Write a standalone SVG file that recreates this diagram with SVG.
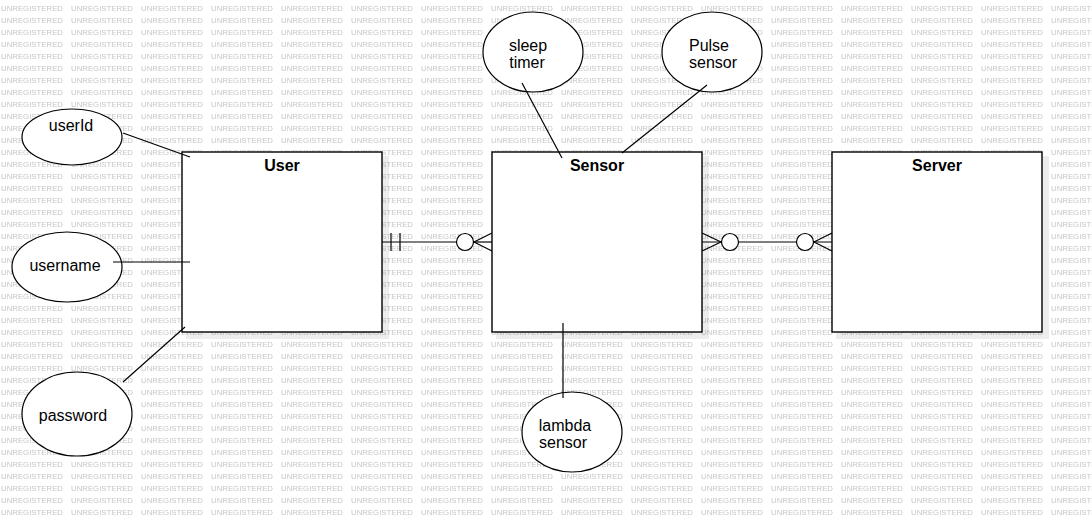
<svg xmlns="http://www.w3.org/2000/svg" width="1092" height="522" viewBox="0 0 1092 522">
<style>
.wm{font-family:"Liberation Sans",Arial,sans-serif;font-size:8px;fill:#c6c6c6}
.box{fill:#fff;stroke:#000;stroke-width:1.4}
.shadow{fill:#000;opacity:0.07}
.ell{fill:#fff;stroke:#000;stroke-width:1.2}
.t{font-family:"Liberation Sans",Arial,sans-serif;font-size:16px;fill:#000;text-anchor:middle}
.title{font-family:"Liberation Sans",Arial,sans-serif;font-size:16px;font-weight:bold;fill:#000;text-anchor:middle}
.ln{stroke:#000;stroke-width:1.2;fill:none}
.circ{fill:#fff;stroke:#000;stroke-width:1.2}
</style>
<defs>
<pattern id="wmp" patternUnits="userSpaceOnUse" x="0" y="0" width="70" height="12">
<text class="wm" x="1" y="11" textLength="62" lengthAdjust="spacingAndGlyphs">UNREGISTERED</text>
</pattern>
</defs>
<rect x="0" y="0" width="1092" height="522" fill="#fff"/>
<rect x="0" y="0" width="1092" height="522" fill="url(#wmp)"/>

<g id="user">
<rect class="shadow" x="186" y="156" width="203" height="183"/>
<rect class="box" x="182" y="152" width="200" height="180"/>
<text class="title" x="282" y="171">User</text>
</g>
<g id="sensor">
<rect class="shadow" x="496" y="156" width="213" height="183"/>
<rect class="box" x="492" y="152" width="210" height="180"/>
<text class="title" x="597" y="171">Sensor</text>
</g>
<g id="server">
<rect class="shadow" x="836" y="156" width="213" height="183"/>
<rect class="box" x="832" y="152" width="210" height="180"/>
<text class="title" x="937" y="171">Server</text>
</g>

<g id="userId">
<ellipse class="ell" cx="72" cy="137" rx="50" ry="28"/>
<text class="t" x="71" y="131">userId</text>
</g>
<g id="username">
<ellipse class="ell" cx="67" cy="267" rx="55" ry="35"/>
<text class="t" x="65" y="271">username</text>
</g>
<g id="password">
<ellipse class="ell" cx="77" cy="414" rx="55" ry="42"/>
<text class="t" x="73" y="421">password</text>
</g>
<g id="sleepTimer">
<ellipse class="ell" cx="533" cy="52" rx="50" ry="40"/>
<text class="t" x="528" y="51">sleep</text>
<text class="t" x="527" y="68">timer</text>
</g>
<g id="pulseSensor">
<ellipse class="ell" cx="712" cy="52" rx="50" ry="40"/>
<text class="t" x="709" y="51">Pulse</text>
<text class="t" x="713" y="68">sensor</text>
</g>
<g id="lambdaSensor">
<ellipse class="ell" cx="572" cy="432" rx="50" ry="40"/>
<text class="t" x="565" y="431">lambda</text>
<text class="t" x="563" y="448">sensor</text>
</g>

<g id="connectors">
<line class="ln" x1="123" y1="133" x2="190" y2="157"/>
<line class="ln" x1="113" y1="262" x2="190" y2="262"/>
<line class="ln" x1="123" y1="382" x2="185" y2="327"/>
<line class="ln" x1="522" y1="83" x2="562" y2="158"/>
<line class="ln" x1="707" y1="85" x2="622" y2="153"/>
<line class="ln" x1="563" y1="323" x2="563" y2="398"/>

<line class="ln" x1="382" y1="242" x2="456" y2="242"/>
<line class="ln" x1="474" y1="242" x2="492" y2="242"/>
<line class="ln" x1="391" y1="233" x2="391" y2="251"/>
<line class="ln" x1="400" y1="233" x2="400" y2="251"/>
<circle class="circ" cx="465" cy="242" r="8.5"/>
<polyline class="ln" points="492,233 474,242 492,251"/>

<line class="ln" x1="702" y1="242" x2="832" y2="242"/>
<polyline class="ln" points="702,233 721,242 702,251"/>
<circle class="circ" cx="730" cy="242" r="8.5"/>
<circle class="circ" cx="805" cy="242" r="8.5"/>
<polyline class="ln" points="832,233 814,242 832,251"/>
</g>
</svg>
